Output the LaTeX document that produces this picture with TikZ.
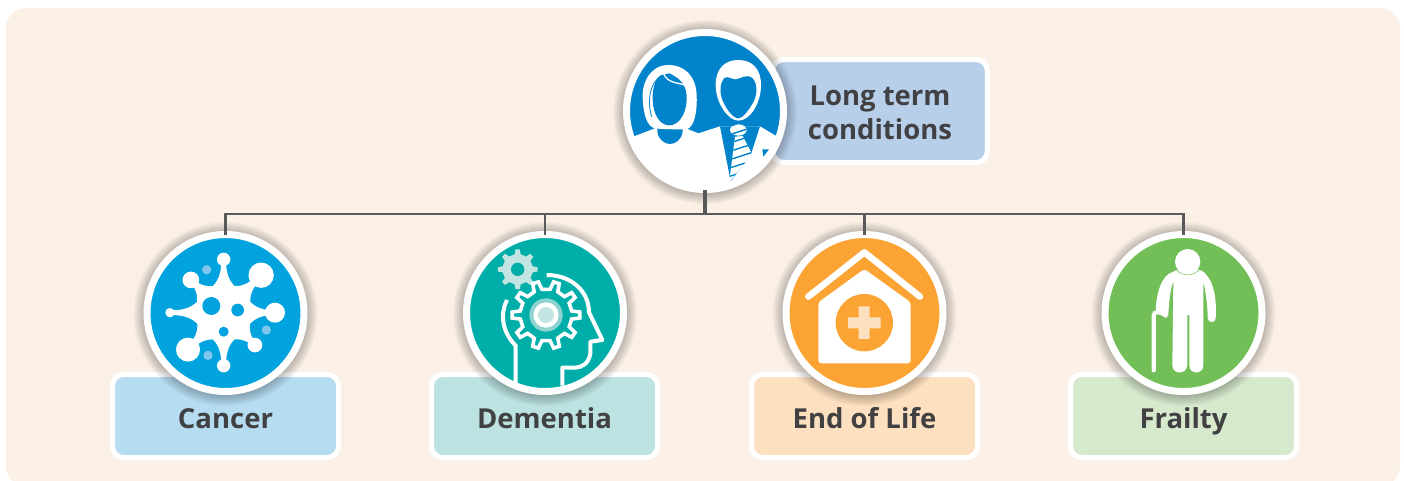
\documentclass[tikz,border=0pt]{standalone}
\usepackage{fontspec}
\setmainfont{Open Sans}
\usetikzlibrary{positioning}
\definecolor{pageBeige}{HTML}{FAF0E6}
\definecolor{lineGrey}{HTML}{58595B}
\definecolor{textGrey}{HTML}{414042}
\definecolor{topBlue}{HTML}{0083CA}
\definecolor{topLabel}{HTML}{B8CFEA}
\definecolor{cancerBlue}{HTML}{00A3DD}
\definecolor{cancerLabel}{HTML}{B5DCF1}
\definecolor{cancerDot}{HTML}{7FC6EC}
\definecolor{dementiaTeal}{HTML}{00AEA9}
\definecolor{dementiaLabel}{HTML}{BCE2E1}
\definecolor{dementiaPale}{HTML}{C2E5E3}
\definecolor{dementiaMid}{HTML}{8FD3D0}
\definecolor{endOrange}{HTML}{FBA433}
\definecolor{endLabel}{HTML}{FDE0BF}
\definecolor{frailtyGreen}{HTML}{72BF57}
\definecolor{frailtyLabel}{HTML}{D7E9CD}

\newcommand{\gearpath}[3]{%
  (360/#1-90/#1:#3)
  \foreach \t [evaluate=\t as \a using 360*\t/#1] in {1,...,#1} {
    -- (\a-90/#1:#3) -- (\a-50/#1:#2) -- (\a+50/#1:#2) -- (\a+90/#1:#3)
  } -- cycle}

\begin{document}
\begin{tikzpicture}[x=1pt,y=-1pt]
\tikzset{IconCircle/.style={
  circle,
  draw=white,
  line width=7pt,
  inner sep=0pt,
  outer sep=0pt,
  minimum size=157pt,
}}
\tikzset{LabelBox/.style={
  draw=white,
  rectangle,
  rounded corners=11pt,
  line width=5pt,
  align=center,
  outer sep=0pt,
  text=textGrey,
  font=\fontsize{27.5}{34}\selectfont\bfseries,
}}
\tikzset{LowerLabel/.style={
  LabelBox,
  minimum width=226pt,
  minimum height=83pt,
  text height=24pt,
  text depth=0pt,
}}
\tikzset{Connector/.style={
  draw=lineGrey,
  line width=2.7pt,
}}

\useasboundingbox (0,0) rectangle (1404,480);
\fill[white] (0,0) rectangle (1404,480);
\fill[pageBeige, rounded corners=20pt] (6,8) rectangle (1400,486);

% labels
\node[LabelBox, fill=topLabel, minimum width=214.5pt, minimum height=103pt] (conditionsLabel) at (880,111) {\rule{0pt}{24pt}Long term\\conditions};
\node[LowerLabel, fill=cancerLabel] (cancerLabel) at (225.5,416) {Cancer};
\node[LowerLabel, fill=dementiaLabel] (dementiaLabel) at (544.5,416) {Dementia};
\node[LowerLabel, fill=endLabel] (endLabel) at (864.5,416) {End of Life};
\node[LowerLabel, fill=frailtyLabel] (frailtyLabel) at (1183.5,416) {Frailty};

% soft shadows
\foreach \cx/\cy in {705/111,225.5/313,545/313,864.5/313,1183.5/313}
  \foreach \r in {82,83,...,92}
    \fill[black, opacity=0.022] (\cx,\cy+1) circle (\r);

% circles
\node[IconCircle, fill=topBlue] (conditions) at (705,111) {};
\node[IconCircle, fill=cancerBlue] (cancer) at (225.5,313) {};
\node[IconCircle, fill=dementiaTeal] (dementia) at (545,313) {};
\node[IconCircle, fill=endOrange] (endoflife) at (864.5,313) {};
\node[IconCircle, fill=frailtyGreen] (frailty) at (1183.5,313) {};

% connectors
\coordinate (fork) at (705,214);
\draw[Connector, line width=3.2pt] (conditions.south) -- (fork);
\draw[Connector] (cancer.north) -- (cancer.north |- fork) -- (frailty.north |- fork) -- (frailty.north);
\draw[Connector] (dementia.north) -- (dementia.north |- fork);
\draw[Connector] (endoflife.north) -- (endoflife.north |- fork);

% couple
\begin{scope}[shift={(600,10)},scale=1/3]
  \clip (315,303) circle (228);
  \fill[white] (100,380) -- (172,352) -- (250,352) -- (295,370) -- (360,349) -- (480,349) -- (540,385) -- (570,570) -- (60,570) -- cycle;
  \fill[topBlue] (172,340) -- (248,340) -- (248,365) .. controls (245,390) and (225,402) .. (210,402) .. controls (195,402) and (175,390) .. (172,365) -- cycle;
  \fill[white] (205,165) .. controls (150,165) and (125,220) .. (128,265) .. controls (130,310) and (140,350) .. (165,355) .. controls (185,358) and (230,358) .. (260,358) .. controls (285,350) and (292,300) .. (290,255) .. controls (288,200) and (255,165) .. (205,165) -- cycle;
  \fill[topBlue] (208,190) .. controls (240,205) and (262,225) .. (260,270) .. controls (258,315) and (235,346) .. (208,346) .. controls (180,346) and (160,315) .. (158,270) .. controls (156,230) and (170,200) .. (185,195) -- cycle;
  \draw[white, line width=1.3pt] (190,190) .. controls (205,225) and (240,215) .. (272,232);
  \draw[topBlue, line width=0.8pt] (183,197) .. controls (150,220) and (140,270) .. (155,320);
  \fill[white] (415,150) .. controls (375,150) and (347,175) .. (347,225) .. controls (347,280) and (385,332) .. (415,332) .. controls (450,332) and (483,280) .. (483,225) .. controls (483,175) and (455,150) .. (415,150) -- cycle;
  \fill[topBlue] (372,205) .. controls (385,195) and (395,210) .. (408,208) .. controls (425,205) and (440,190) .. (458,205) .. controls (475,225) and (472,260) .. (455,285) .. controls (440,310) and (425,325) .. (415,325) .. controls (400,325) and (380,300) .. (367,270) .. controls (358,245) and (360,220) .. (372,205) -- cycle;
  \fill[topBlue] (360,349) -- (480,349) -- (452,435) -- (392,514) -- cycle;
  \begin{scope}
    \clip (415,360) ellipse (25 and 17) (405,380) -- (428,378) -- (456,432) -- (392,512) -- (388,512) -- cycle;
    \fill[white] (380,340) rectangle (460,520);
    \foreach \s in {345,370,...,520}
      \draw[topBlue, line width=1.4pt] (370,\s+10) -- (470,\s-22);
  \end{scope}
  \fill[topBlue] (487,418) -- (507,418) -- (490,440) -- cycle;
\end{scope}

% virus
\begin{scope}[shift={(100,225)},scale=1/3]
  \fill[cancerDot] (320,134) circle (14) (499,315) circle (14) (324,391) circle (14);
  \fill[white] (371,263) circle (84);
  \foreach \ang/\len/\rad in {90/160/20,45/159/38,0/154/30,-46/135/22,-90/159/20,226/154/36,180/161/14,135/139/25} {
    \begin{scope}[shift={(371,263)},rotate=\ang]
      \fill[white] (\len,0) circle (\rad);
      \fill[white] (65,-50) .. controls (85,-25) and (100,-7) .. (\len,-7) -- (\len,7) .. controls (100,7) and (85,25) .. (65,50) -- cycle;
    \end{scope}
  }
  \fill[cancerBlue] (334,243) circle (27) (413,255) circle (19) (371,320) circle (15);
\end{scope}

% head with gears
\begin{scope}[shift={(425,225)},scale=1/3]
  \begin{scope}[shift={(278,133)}]
    \fill[dementiaPale] \gearpath{8}{60}{46};
    \fill[dementiaTeal] (0,0) circle (20);
  \end{scope}
  \begin{scope}[shift={(363,270)}]
    \draw[white, line width=3.6pt, line join=miter] \gearpath{10}{102}{78};
    \fill[dementiaMid] (0,0) circle (50);
    \fill[white] (0,0) circle (38);
    \fill[dementiaPale] (0,0) circle (24);
  \end{scope}
  \draw[white, line width=4pt, line join=round] (365,150) .. controls (440,150) and (492,200) .. (492,262) -- (532,345) -- (496,350) -- (496,385) .. controls (492,415) and (470,428) .. (450,428) -- (412,428) -- (412,482);
  \draw[white, line width=4pt] (246,225) .. controls (225,265) and (230,320) .. (272,362) -- (272,476);
\end{scope}

% house
\begin{scope}[shift={(745,225)},scale=1/3]
  \draw[white, line width=6.5pt, line cap=round, line join=round] (190,215) -- (358,82) -- (525,215);
  \fill[white, rounded corners=3pt] (220,232) -- (358,132) -- (497,232) -- (497,415) -- (220,415) -- cycle;
  \fill[endOrange] (358,293) circle (86);
  \fill[endLabel] (341,244) rectangle (374,342) (309,277) rectangle (407,310);
\end{scope}

% older person
\begin{scope}[shift={(1065,225)},scale=1/3]
  \fill[white] (325,140) .. controls (290,150) and (275,200) .. (272,255) .. controls (285,258) and (295,258) .. (310,272) .. controls (312,220) and (318,185) .. (325,170) -- (322,420) .. controls (322,450) and (365,450) .. (367,420) -- (367,270) -- (373,270) -- (373,420) .. controls (373,450) and (415,450) .. (415,420) -- (415,170) .. controls (422,200) and (428,240) .. (428,280) .. controls (430,295) and (450,295) .. (452,280) .. controls (455,230) and (450,170) .. (415,140) .. controls (390,125) and (350,125) .. (325,140) -- cycle;
  \draw[frailtyGreen, line width=0.5pt] (335,135) .. controls (350,155) and (390,155) .. (405,130);
  \fill[white] (368,110) circle (38);
  \draw[white, line width=4.2pt, line cap=round] (266,436) -- (266,272) .. controls (266,258) and (285,258) .. (302,272);
\end{scope}
\end{tikzpicture}
\end{document}
